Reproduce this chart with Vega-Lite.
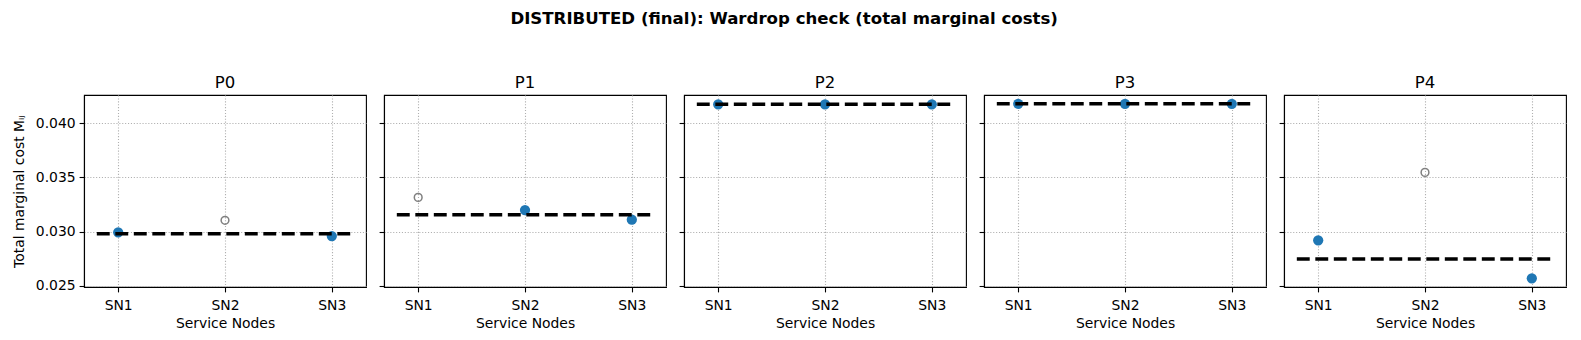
{
  "$schema": "https://vega.github.io/schema/vega-lite/v6.json",
  "background": "white",
  "padding": {"left": 11, "top": 11, "right": 8, "bottom": 5},
  "title": {"text": "DISTRIBUTED (final): Wardrop check (total marginal costs)", "fontSize": 16.6, "fontWeight": "bold", "font": "DejaVu Sans", "color": "black", "anchor": "middle", "frame": "bounds", "offset": 46, "dx": -5},
  "data": {"values": [
    {"panel": "P0", "x": 0, "cost": 0.02993, "kind": "used"},
    {"panel": "P0", "x": 1, "cost": 0.03104, "kind": "unused"},
    {"panel": "P0", "x": 2, "cost": 0.02959, "kind": "used"},
    {"panel": "P0", "x": -0.2, "cost": 0.0298, "kind": "level"},
    {"panel": "P0", "x": 2.2, "cost": 0.0298, "kind": "level"},
    {"panel": "P1", "x": 0, "cost": 0.03316, "kind": "unused"},
    {"panel": "P1", "x": 1, "cost": 0.03199, "kind": "used"},
    {"panel": "P1", "x": 2, "cost": 0.0311, "kind": "used"},
    {"panel": "P1", "x": -0.2, "cost": 0.03156, "kind": "level"},
    {"panel": "P1", "x": 2.2, "cost": 0.03156, "kind": "level"},
    {"panel": "P2", "x": 0, "cost": 0.04176, "kind": "used"},
    {"panel": "P2", "x": 1, "cost": 0.04176, "kind": "used"},
    {"panel": "P2", "x": 2, "cost": 0.04176, "kind": "used"},
    {"panel": "P2", "x": -0.2, "cost": 0.04176, "kind": "level"},
    {"panel": "P2", "x": 2.2, "cost": 0.04176, "kind": "level"},
    {"panel": "P3", "x": 0, "cost": 0.04181, "kind": "used"},
    {"panel": "P3", "x": 1, "cost": 0.04181, "kind": "used"},
    {"panel": "P3", "x": 2, "cost": 0.04181, "kind": "used"},
    {"panel": "P3", "x": -0.2, "cost": 0.04181, "kind": "level"},
    {"panel": "P3", "x": 2.2, "cost": 0.04181, "kind": "level"},
    {"panel": "P4", "x": 0, "cost": 0.02919, "kind": "used"},
    {"panel": "P4", "x": 1, "cost": 0.03547, "kind": "unused"},
    {"panel": "P4", "x": 2, "cost": 0.02568, "kind": "used"},
    {"panel": "P4", "x": -0.2, "cost": 0.02747, "kind": "level"},
    {"panel": "P4", "x": 2.2, "cost": 0.02747, "kind": "level"}
  ]},
  "spacing": 18,
  "bounds": "flush",
  "hconcat": [
    {
      "width": 282, "height": 192,
      "title": {"text": "P0"},
      "transform": [{"filter": "datum.panel === 'P0'"}],
      "encoding": {
        "x": {"field": "x", "type": "quantitative", "scale": {"domain": [-0.32, 2.32], "nice": false, "zero": false}, "axis": {"title": "Service Nodes", "values": [0, 1, 2], "labelExpr": "['SN1','SN2','SN3'][datum.value]", "labelPadding": 6.5}},
        "y": {"field": "cost", "type": "quantitative", "scale": {"domain": [0.02488, 0.04262], "nice": false, "zero": false}, "axis": {"title": "Total marginal cost  Mᵢⱼ", "values": [0.025, 0.03, 0.035, 0.04], "format": ".3f", "titlePadding": 9}}
      },
      "layer": [
        {"transform": [{"filter": "datum.kind === 'unused'"}], "mark": {"type": "point", "filled": false, "color": "#808080", "strokeWidth": 1.5, "size": 60, "opacity": 1}},
        {"transform": [{"filter": "datum.kind === 'used'"}], "mark": {"type": "circle", "color": "#1f77b4", "size": 105, "opacity": 1}},
        {"transform": [{"filter": "datum.kind === 'level'"}], "mark": {"type": "line", "color": "black", "strokeWidth": 3.5, "strokeDash": [12.9, 5.6]}}
      ]
    },
    {
      "width": 282, "height": 192,
      "title": {"text": "P1"},
      "transform": [{"filter": "datum.panel === 'P1'"}],
      "encoding": {
        "x": {"field": "x", "type": "quantitative", "scale": {"domain": [-0.32, 2.32], "nice": false, "zero": false}, "axis": {"title": "Service Nodes", "values": [0, 1, 2], "labelExpr": "['SN1','SN2','SN3'][datum.value]", "labelPadding": 6.5}},
        "y": {"field": "cost", "type": "quantitative", "scale": {"domain": [0.02488, 0.04262], "nice": false, "zero": false}, "axis": {"title": null, "labels": false, "values": [0.025, 0.03, 0.035, 0.04]}}
      },
      "layer": [
        {"transform": [{"filter": "datum.kind === 'unused'"}], "mark": {"type": "point", "filled": false, "color": "#808080", "strokeWidth": 1.5, "size": 60, "opacity": 1}},
        {"transform": [{"filter": "datum.kind === 'used'"}], "mark": {"type": "circle", "color": "#1f77b4", "size": 105, "opacity": 1}},
        {"transform": [{"filter": "datum.kind === 'level'"}], "mark": {"type": "line", "color": "black", "strokeWidth": 3.5, "strokeDash": [12.9, 5.6]}}
      ]
    },
    {
      "width": 282, "height": 192,
      "title": {"text": "P2"},
      "transform": [{"filter": "datum.panel === 'P2'"}],
      "encoding": {
        "x": {"field": "x", "type": "quantitative", "scale": {"domain": [-0.32, 2.32], "nice": false, "zero": false}, "axis": {"title": "Service Nodes", "values": [0, 1, 2], "labelExpr": "['SN1','SN2','SN3'][datum.value]", "labelPadding": 6.5}},
        "y": {"field": "cost", "type": "quantitative", "scale": {"domain": [0.02488, 0.04262], "nice": false, "zero": false}, "axis": {"title": null, "labels": false, "values": [0.025, 0.03, 0.035, 0.04]}}
      },
      "layer": [
        {"transform": [{"filter": "datum.kind === 'unused'"}], "mark": {"type": "point", "filled": false, "color": "#808080", "strokeWidth": 1.5, "size": 60, "opacity": 1}},
        {"transform": [{"filter": "datum.kind === 'used'"}], "mark": {"type": "circle", "color": "#1f77b4", "size": 105, "opacity": 1}},
        {"transform": [{"filter": "datum.kind === 'level'"}], "mark": {"type": "line", "color": "black", "strokeWidth": 3.5, "strokeDash": [12.9, 5.6]}}
      ]
    },
    {
      "width": 282, "height": 192,
      "title": {"text": "P3"},
      "transform": [{"filter": "datum.panel === 'P3'"}],
      "encoding": {
        "x": {"field": "x", "type": "quantitative", "scale": {"domain": [-0.32, 2.32], "nice": false, "zero": false}, "axis": {"title": "Service Nodes", "values": [0, 1, 2], "labelExpr": "['SN1','SN2','SN3'][datum.value]", "labelPadding": 6.5}},
        "y": {"field": "cost", "type": "quantitative", "scale": {"domain": [0.02488, 0.04262], "nice": false, "zero": false}, "axis": {"title": null, "labels": false, "values": [0.025, 0.03, 0.035, 0.04]}}
      },
      "layer": [
        {"transform": [{"filter": "datum.kind === 'unused'"}], "mark": {"type": "point", "filled": false, "color": "#808080", "strokeWidth": 1.5, "size": 60, "opacity": 1}},
        {"transform": [{"filter": "datum.kind === 'used'"}], "mark": {"type": "circle", "color": "#1f77b4", "size": 105, "opacity": 1}},
        {"transform": [{"filter": "datum.kind === 'level'"}], "mark": {"type": "line", "color": "black", "strokeWidth": 3.5, "strokeDash": [12.9, 5.6]}}
      ]
    },
    {
      "width": 282, "height": 192,
      "title": {"text": "P4"},
      "transform": [{"filter": "datum.panel === 'P4'"}],
      "encoding": {
        "x": {"field": "x", "type": "quantitative", "scale": {"domain": [-0.32, 2.32], "nice": false, "zero": false}, "axis": {"title": "Service Nodes", "values": [0, 1, 2], "labelExpr": "['SN1','SN2','SN3'][datum.value]", "labelPadding": 6.5}},
        "y": {"field": "cost", "type": "quantitative", "scale": {"domain": [0.02488, 0.04262], "nice": false, "zero": false}, "axis": {"title": null, "labels": false, "values": [0.025, 0.03, 0.035, 0.04]}}
      },
      "layer": [
        {"transform": [{"filter": "datum.kind === 'unused'"}], "mark": {"type": "point", "filled": false, "color": "#808080", "strokeWidth": 1.5, "size": 60, "opacity": 1}},
        {"transform": [{"filter": "datum.kind === 'used'"}], "mark": {"type": "circle", "color": "#1f77b4", "size": 105, "opacity": 1}},
        {"transform": [{"filter": "datum.kind === 'level'"}], "mark": {"type": "line", "color": "black", "strokeWidth": 3.5, "strokeDash": [12.9, 5.6]}}
      ]
    }
  ],
  "config": {
    "font": "DejaVu Sans",
    "view": {"stroke": "black", "strokeWidth": 1.1},
    "title": {"fontSize": 16.5, "fontWeight": "normal", "color": "black", "font": "DejaVu Sans", "offset": 4, "baseline": "alphabetic"},
    "axis": {
      "zindex": 1,
      "labelFont": "DejaVu Sans", "labelFontSize": 13.9, "labelColor": "black",
      "titleFont": "DejaVu Sans", "titleFontSize": 13.9, "titleFontWeight": "normal", "titleColor": "black",
      "domainColor": "black", "domainWidth": 1.1,
      "tickColor": "black", "tickWidth": 1.1, "tickSize": 4.9,
      "labelPadding": 4, "titlePadding": 4,
      "grid": true, "gridColor": "#b0b0b0", "gridDash": [1.1, 1.8], "gridWidth": 1.1
    }
  }
}
